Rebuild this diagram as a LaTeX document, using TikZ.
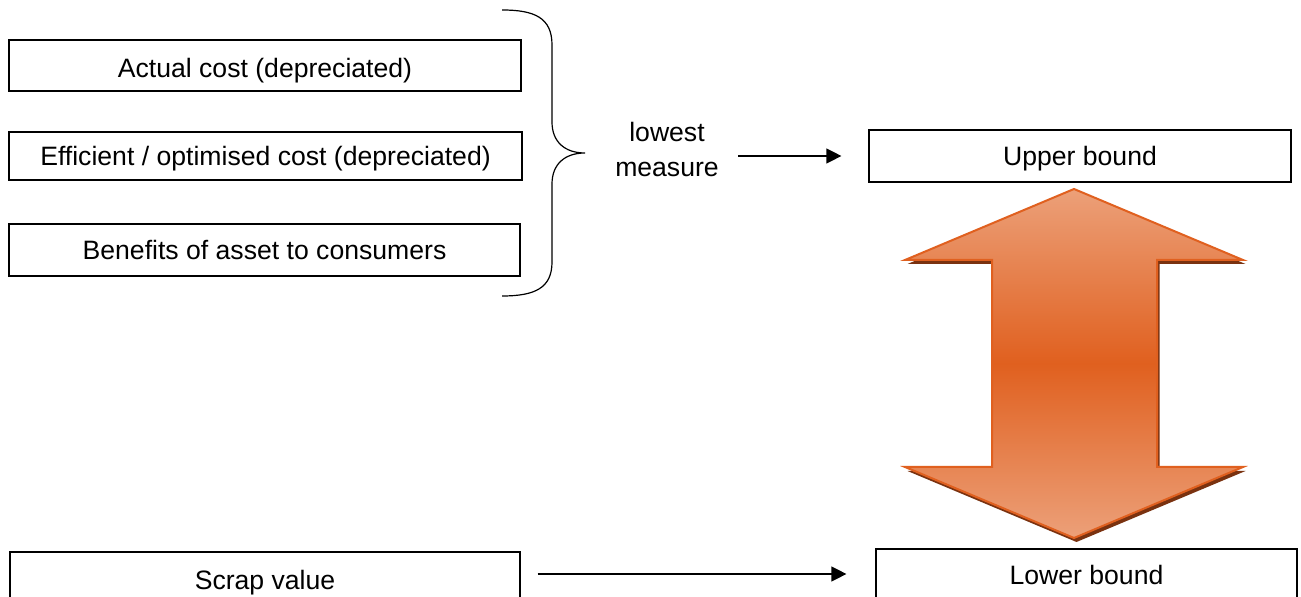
\documentclass[tikz,border=0pt]{standalone}
\usepackage{fontspec}
\setmainfont{Liberation Sans}
\usetikzlibrary{arrows.meta}
\definecolor{arrline}{HTML}{E0601F}
\definecolor{arrlight}{HTML}{ECA079}
\definecolor{arrdark}{HTML}{E0601F}
\definecolor{arrshadow}{HTML}{7A3210}
\tikzset{
  box/.style={draw=black, line width=0.6pt, inner sep=0pt, text height=12pt, text depth=2pt, font=\fontsize{13.3}{16}\selectfont},
  lowtext/.style={text height=14pt},
  lbl/.style={inner sep=0pt, align=center, font=\fontsize{13.3}{17.5}\selectfont},
  conn/.style={line width=0.6pt, -{Triangle[length=7.5pt,width=7.5pt]}},
  brace/.style={line width=0.6pt},
}
\begin{document}
\begin{tikzpicture}[x=0.5pt,y=-0.5pt]
\clip (0,0) rectangle (1301,597);
\fill[white] (0,0) rectangle (1301,597);
% left boxes
\node[box, lowtext, minimum width=256pt, minimum height=25.5pt] (ac) at (265,65.5) {Actual cost (depreciated)};
\node[box, minimum width=256.5pt, minimum height=24pt] (ef) at (265.5,156) {Efficient / optimised cost (depreciated)};
\node[box, minimum width=255.5pt, minimum height=26pt] (bn) at (264.5,250) {Benefits of asset to consumers};
\node[box, lowtext, minimum width=255pt, minimum height=26pt] (sv) at (265,578) {Scrap value};
% right boxes
\node[box, minimum width=211pt, minimum height=26pt] (ub) at (1080,156) {Upper bound};
\node[box, minimum width=210.5pt, minimum height=26pt] (lb) at (1086.5,575) {Lower bound};
% label
\node[lbl] (lm) at (667,150) {lowest\\measure};
% brace
\draw[brace] (502,10) .. controls (535,10) and (552,18) .. (552,45)
  -- (552,122) .. controls (552,142) and (565,153) .. (585,153)
  .. controls (565,153) and (552,164) .. (552,184)
  -- (552,262) .. controls (552,288) and (535,296) .. (502,296);
% connectors
\draw[conn, shorten <=9.5pt, shorten >=13.5pt] (lm.east |- ub.west) -- (ub.west);
\draw[conn, shorten <=8.5pt, shorten >=14.5pt] ([yshift=2pt]sv.east) -- ([yshift=2pt]sv.east -| lb.west);
% double arrow shadow
\begin{scope}[shift={(2.5,4)}]
\fill[arrshadow] (1074,189) -- (1243,260) -- (1157,260) -- (1157,467) -- (1243,467)
  -- (1074,538) -- (905,467) -- (992,467) -- (992,260) -- (905,260) -- cycle;
\end{scope}
\shade[top color=arrlight, bottom color=arrlight, middle color=arrdark, draw=arrline, line width=1pt, line join=miter]
  (1074,189) -- (1243,260) -- (1157,260) -- (1157,467) -- (1243,467)
  -- (1074,538) -- (905,467) -- (992,467) -- (992,260) -- (905,260) -- cycle;
\end{tikzpicture}
\end{document}
